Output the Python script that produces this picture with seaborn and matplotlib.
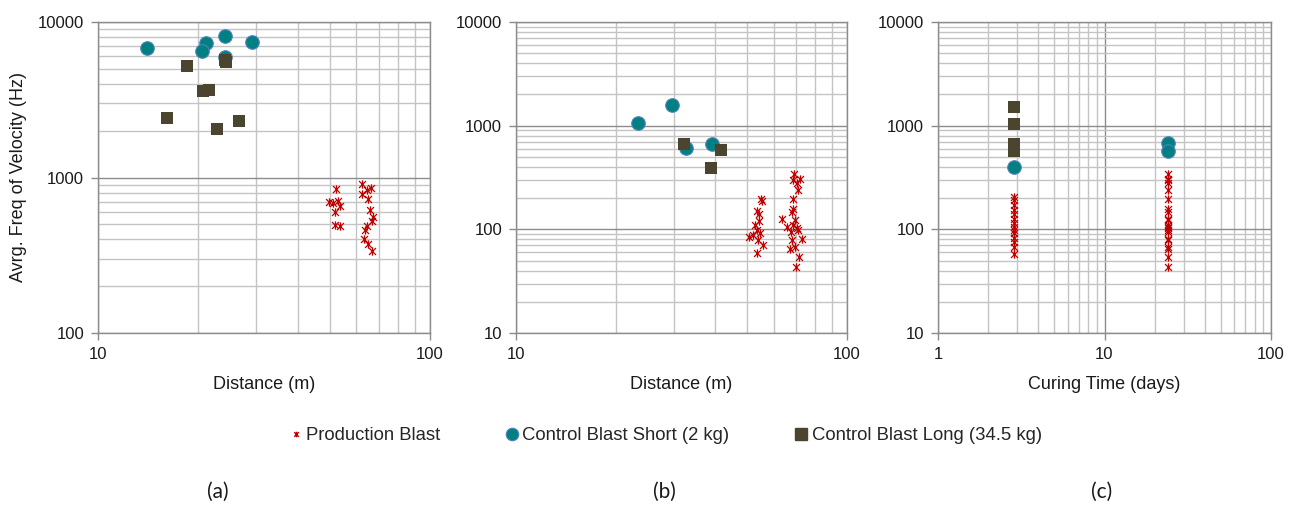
import numpy as np
import pandas as pd
import matplotlib
matplotlib.use("Agg")
import matplotlib.pyplot as plt
from matplotlib.ticker import LogLocator, NullFormatter, FuncFormatter
from matplotlib.lines import Line2D
from matplotlib.path import Path
import seaborn as sns

# ---------------- data ----------------
series_names = ["Production Blast", "Control Blast Short (2 kg)", "Control Blast Long (34.5 kg)"]

# panel (a): distance vs avg frequency
a_prod_x = [52.2, 49.7, 52.9, 53.5, 51.7, 51.7, 53.5, 51.1,
            62.2, 66.4, 62.2, 64.9, 65.9, 67.5, 66.7, 64.4, 63.7, 63.2, 64.9, 66.7, 64.4]
a_prod_y = [849, 693, 706, 656, 600, 493, 486, 681,
            906, 857, 789, 728, 622, 557, 526, 486, 458, 405, 376, 337, 828]
a_short_x = [14.0, 21.1, 20.5, 24.1, 24.2, 29.0]
a_short_y = [6830, 7360, 6480, 8160, 5990, 7400]
a_long_x = [18.5, 24.1, 24.3, 20.7, 21.6, 16.1, 22.8, 26.5]
a_long_y = [5190, 5660, 5500, 3580, 3630, 2430, 2040, 2300]

# panel (b): distance vs avg frequency
b_prod_x = [54.9, 55.3, 53.6, 54.1, 54.3, 52.7, 53.6, 54.6, 50.4, 52.1, 55.7, 53.6, 54.0,
            69.3, 72.1, 68.5, 71.3, 68.5, 68.9, 68.0, 63.8, 69.7, 65.8, 68.5, 71.3, 67.6,
            72.9, 68.0, 67.3, 69.7, 71.8, 70.2, 70.5, 70.5]
b_prod_y = [197, 188, 150, 140, 121, 109, 98, 92, 85, 88, 71, 59, 79,
            341, 303, 299, 239, 195, 156, 148, 127, 123, 106, 110, 98, 95,
            80, 79, 65, 67, 54, 43, 277, 102]
b_short_x = [23.4, 29.6, 32.6, 39.2]
b_short_y = [1067, 1570, 612, 659]
b_long_x = [32.1, 41.5, 38.9]
b_long_y = [659, 578, 387]

# panel (c): curing time vs avg frequency
c_prod_x = [2.85] * 14 + [24.1] * 21
c_prod_y = [206, 191, 171, 153, 142, 127, 114, 106, 98, 92, 82, 76, 68, 58,
            341, 303, 299, 277, 239, 195, 156, 148, 127, 123, 110, 106, 102, 98,
            95, 80, 79, 67, 65, 54, 43]
c_short_x = [2.85, 24.1, 24.1]
c_short_y = [398, 681, 574]
c_long_x = [2.85, 2.85, 2.85, 2.85]
c_long_y = [1513, 1040, 665, 574]

x_labels = ["Distance (m)", "Distance (m)", "Curing Time (days)"]
panel_tags = ["(a)", "(b)", "(c)"]
x_limits = [(10, 100), (10, 100), (1, 100)]
y_limits = [(100, 10000), (10, 10000), (10, 10000)]
y_label = "Avrg. Freq of Velocity (Hz)"

# ---------------- style ----------------
sns.set_theme(style="white")
ARIAL = ["Liberation Sans", "DejaVu Sans"]
CALIBRI = ["Lato", "DejaVu Sans"]
plt.rcParams["font.family"] = ARIAL

RED = "#C00000"
TEAL = "#008080"
TEAL_EDGE = "#4F81BD"
OLIVE = "#4B452F"
MAJOR = "#8C8C8C"
MINOR = "#C4C4C4"
TXT = "#1A1A1A"

# Excel-like "star" marker: an x plus a vertical stroke
star = Path([(-1, -1), (1, 1), (-1, 1), (1, -1), (0, -1.2), (0, 1.2)],
            [Path.MOVETO, Path.LINETO, Path.MOVETO, Path.LINETO, Path.MOVETO, Path.LINETO])

fig = plt.figure(figsize=(12.99, 5.05), dpi=100)
W, H = 1299, 505
boxes = [(98, 430), (516, 847), (938, 1271)]
top_px, bot_px = 22, 333
axes = []
for (l, r) in boxes:
    ax = fig.add_axes([l / W, 1 - bot_px / H, (r - l) / W, (bot_px - top_px) / H])
    axes.append(ax)

panels = [
    (a_prod_x, a_prod_y, a_short_x, a_short_y, a_long_x, a_long_y),
    (b_prod_x, b_prod_y, b_short_x, b_short_y, b_long_x, b_long_y),
    (c_prod_x, c_prod_y, c_short_x, c_short_y, c_long_x, c_long_y),
]

for i, (ax, d) in enumerate(zip(axes, panels)):
    px, py, sx, sy, lx, ly = d
    ax.set_xscale("log")
    ax.set_yscale("log")
    ax.set_xlim(*x_limits[i])
    ax.set_ylim(*y_limits[i])
    sns.scatterplot(x=sx, y=sy, ax=ax, marker="o", s=95, color=TEAL,
                    edgecolor=TEAL_EDGE, linewidth=0.8, zorder=3)
    sns.scatterplot(x=lx, y=ly, ax=ax, marker="s", s=70, color=OLIVE,
                    edgecolor=OLIVE, linewidth=0, zorder=3.5)
    sns.scatterplot(x=px, y=py, ax=ax, marker=star, s=36, color=RED,
                    edgecolor=RED, linewidth=0.9, zorder=4)

    ax.xaxis.set_major_locator(LogLocator(base=10, numticks=10))
    ax.yaxis.set_major_locator(LogLocator(base=10, numticks=10))
    ax.xaxis.set_minor_locator(LogLocator(base=10, subs=np.arange(2, 10), numticks=50))
    ax.yaxis.set_minor_locator(LogLocator(base=10, subs=np.arange(2, 10), numticks=50))
    ax.xaxis.set_minor_formatter(NullFormatter())
    ax.yaxis.set_minor_formatter(NullFormatter())
    ax.xaxis.set_major_formatter(FuncFormatter(lambda v, p: f"{v:g}"))
    ax.yaxis.set_major_formatter(FuncFormatter(lambda v, p: f"{v:g}"))
    ax.grid(True, which="major", color=MAJOR, linewidth=1.0, zorder=0)
    ax.grid(True, which="minor", color=MINOR, linewidth=1.0, zorder=0)
    ax.set_axisbelow(True)
    ax.tick_params(axis="both", which="major", length=5, width=1, color=MAJOR,
                   labelsize=12, pad=5, labelcolor=TXT, direction="out",
                   bottom=True, left=True)
    ax.tick_params(axis="both", which="minor", length=0)
    for sp in ax.spines.values():
        sp.set_color(MAJOR)
        sp.set_linewidth(1.0)
    ax.set_xlabel(x_labels[i], fontsize=13, color=TXT, labelpad=10)
    ax.set_ylabel("")
    fig.text([218, 664, 1102][i] / W, 1 - 492 / H, panel_tags[i],
             ha="center", va="center", fontsize=15, color=TXT, family=CALIBRI)

axes[0].set_ylabel(y_label, fontsize=13, color=TXT, labelpad=8)

handles = [
    Line2D([], [], linestyle="none", marker=star, markersize=4, color=RED,
           markeredgecolor=RED, markeredgewidth=1.0),
    Line2D([], [], linestyle="none", marker="o", markersize=9, color=TEAL,
           markeredgecolor=TEAL_EDGE, markeredgewidth=0.8),
    Line2D([], [], linestyle="none", marker="s", markersize=8, color=OLIVE,
           markeredgecolor=OLIVE),
]
fig.legend(handles, series_names, loc="center", bbox_to_anchor=(664 / W, 1 - 436 / H),
           ncol=3, frameon=False, handletextpad=0.05, columnspacing=3.4,
           handlelength=1.0, prop={"family": ARIAL, "size": 13.3})

fig.savefig("out.png", dpi=100)
